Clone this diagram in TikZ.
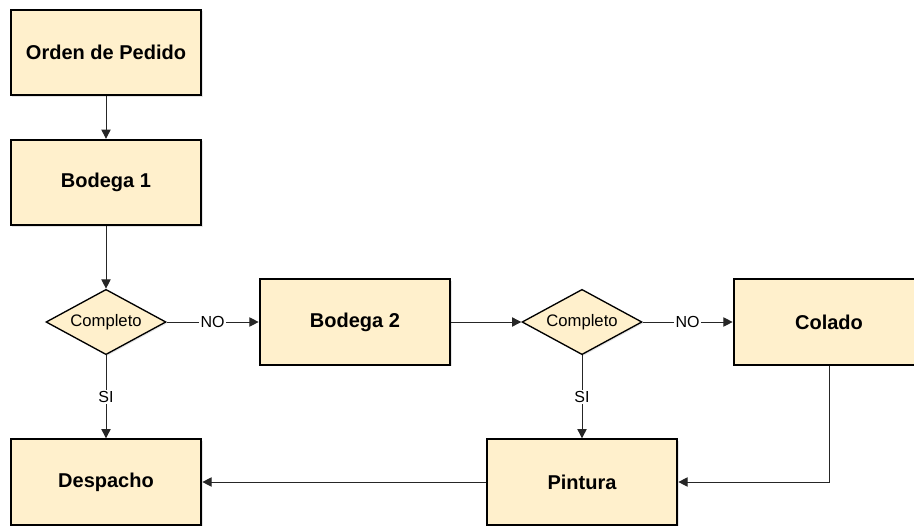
\documentclass[tikz,border=0pt]{standalone}
\usepackage{fontspec}
\setmainfont{Liberation Sans}
\usepackage{tikz}
\usetikzlibrary{arrows.meta}
\usetikzlibrary{shapes.geometric, shadows}
\definecolor{boxfill}{HTML}{FFF0CC}
\tikzset{
process box/.style = { rectangle, draw = black, line width = 1.5pt, fill = boxfill, minimum width = 143pt, minimum height = 64pt, font = \fontsize{15}{18}\selectfont\bfseries, drop shadow = {shadow xshift = 1pt, shadow yshift = -1pt, fill = black!20} },
decision/.style = { diamond, aspect = 1.85, draw = black, line width = 1pt, fill = boxfill, minimum width = 90pt, minimum height = 49pt, inner sep = 0pt, font = \fontsize{12.5}{15}\selectfont, drop shadow = {shadow xshift = 1pt, shadow yshift = -1pt, fill = black!20} },
flow/.style = { draw = black!85, line width = 0.75pt, -{Triangle[length = 7pt, width = 7pt]} },
flow label/.style = { fill = white, inner sep = 1pt, font = \fontsize{12}{14}\selectfont },
}

\begin{document}
\begin{tikzpicture}[x = 0.75pt, y = -0.75pt]
    \useasboundingbox (0, 0) rectangle (914, 525);
    \clip (0, 0) rectangle (914, 525);
    \node[process box] (orden) at (106, 52.5) {Orden de Pedido};
    \node[process box] (bodega1) at (106, 182.5) {Bodega 1};
    \node[decision] (completo1) at (106, 322) {Completo};
    \node[process box] (bodega2) at (355, 322) {Bodega 2};
    \node[decision] (completo2) at (582, 322) {Completo};
    \node[process box] (colado) at (829, 322) {Colado};
    \node[process box] (despacho) at (106, 482) {Despacho};
    \node[process box] (pintura) at (582, 482) {Pintura};
    % connectors
    \draw[flow] (orden) -- (bodega1);
    \draw[flow] (bodega1) -- (completo1);
    \draw[flow] (completo1) -- node[flow label] {NO} (bodega2);
    \draw[flow] (completo1) -- node[flow label] {SI} (despacho);
    \draw[flow] (bodega2) -- (completo2);
    \draw[flow] (completo2) -- node[flow label] {NO} (colado);
    \draw[flow] (completo2) -- node[flow label] {SI} (pintura);
    \draw[flow] (colado) |- (pintura);
    \draw[flow] (pintura) -- (despacho);
\end{tikzpicture}
\end{document}
